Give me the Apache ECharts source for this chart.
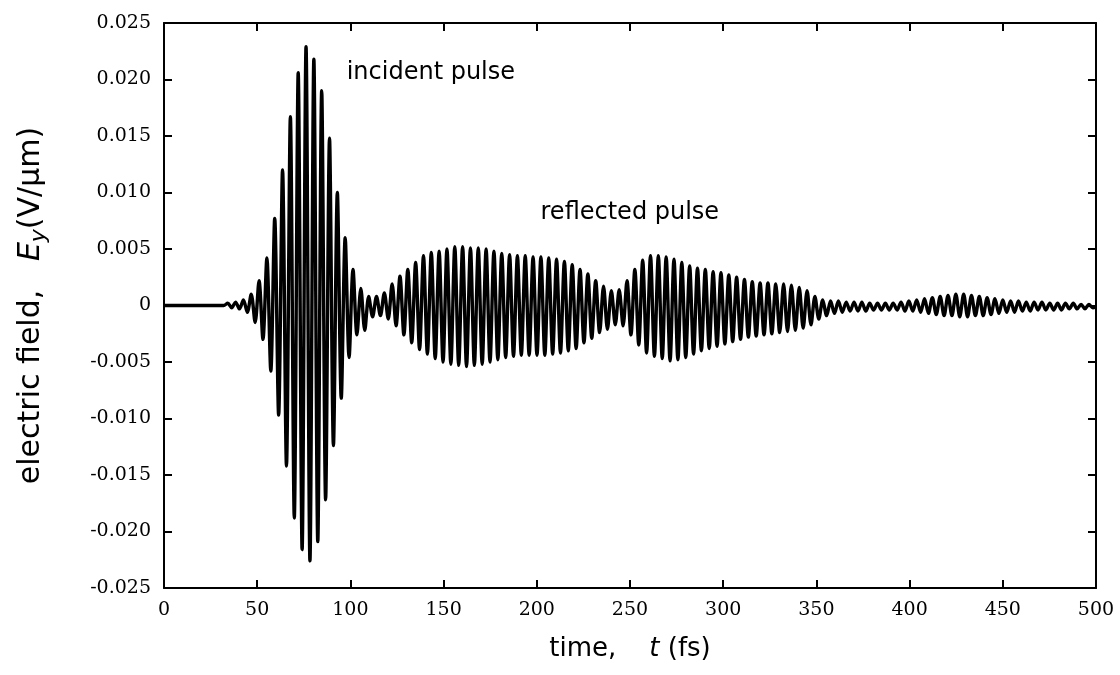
<!DOCTYPE html>
<html>
<head>
<meta charset="utf-8">
<script src="https://cdn.jsdelivr.net/npm/echarts@6/dist/echarts.min.js"></script>
<style>
html,body{margin:0;padding:0;background:#fff;}
#chart{width:1120px;height:675px;}
</style>
</head>
<body>
<div id="chart"></div>
<script>
// ---- data ----
// x-axis tick labels (fs) and y-axis range (V/um)
const xTicks = [0, 50, 100, 150, 200, 250, 300, 350, 400, 450, 500];
const yTicks = [-0.025, -0.020, -0.015, -0.010, -0.005, 0, 0.005, 0.010, 0.015, 0.020, 0.025];

// extrema of the field trace: one positive crest and one negative trough per optical cycle
// crest k occurs at firstCrest + k*cycle fs, its trough half a cycle later
const firstCrest = 34.2;   // fs
const cycle = 4.2;         // fs, carrier period
const crests = [
  0.0002, 0.0003, 0.0005, 0.0010, 0.0022, 0.0042, 0.0077, 0.0120, 0.0167, 0.0206,
  0.0229, 0.0218, 0.0190, 0.0148, 0.0100, 0.0060, 0.0032, 0.0015, 0.0008, 0.0008,
  0.0011, 0.0019, 0.0026, 0.0032, 0.0038, 0.0044, 0.0047, 0.0048, 0.0050, 0.0052,
  0.0052, 0.0051, 0.0051, 0.0050, 0.0048, 0.0046, 0.0045, 0.0044, 0.0044, 0.0043,
  0.0043, 0.0042, 0.0041, 0.0039, 0.0036, 0.0032, 0.0028, 0.0022, 0.0017, 0.0013,
  0.0014, 0.0022, 0.0032, 0.0040, 0.0044, 0.0044, 0.0043, 0.0041, 0.0038, 0.0035,
  0.0033, 0.0032, 0.0030, 0.0029, 0.0027, 0.0025, 0.0023, 0.0021, 0.0020, 0.0020,
  0.0019, 0.0019, 0.0018, 0.0016, 0.0013, 0.0008, 0.0005, 0.0004, 0.0004, 0.0003,
  0.0003, 0.0003, 0.0002, 0.0002, 0.0002, 0.0002, 0.0003, 0.0004, 0.0005, 0.0006,
  0.0007, 0.0008, 0.0009, 0.0010, 0.0010, 0.0009, 0.0008, 0.0007, 0.0006, 0.0005,
  0.0004, 0.0004, 0.0003, 0.0003, 0.0003, 0.0002, 0.0002, 0.0002, 0.0002, 0.0001,
  0.0001
];
const troughs = [
  -0.0002, -0.0003, -0.0006, -0.0015, -0.0030, -0.0058, -0.0097, -0.0142, -0.0188, -0.0216,
  -0.0226, -0.0209, -0.0172, -0.0124, -0.0082, -0.0046, -0.0026, -0.0022, -0.0010, -0.0009,
  -0.0012, -0.0018, -0.0026, -0.0033, -0.0039, -0.0043, -0.0047, -0.0050, -0.0052, -0.0053,
  -0.0054, -0.0053, -0.0052, -0.0050, -0.0048, -0.0046, -0.0045, -0.0044, -0.0044, -0.0044,
  -0.0044, -0.0043, -0.0042, -0.0040, -0.0038, -0.0033, -0.0029, -0.0024, -0.0021, -0.0017,
  -0.0018, -0.0026, -0.0035, -0.0042, -0.0045, -0.0047, -0.0049, -0.0048, -0.0046, -0.0043,
  -0.0040, -0.0038, -0.0036, -0.0034, -0.0032, -0.0030, -0.0028, -0.0027, -0.0026, -0.0025,
  -0.0024, -0.0023, -0.0022, -0.0020, -0.0017, -0.0012, -0.0009, -0.0007, -0.0006, -0.0005,
  -0.0005, -0.0005, -0.0004, -0.0004, -0.0004, -0.0004, -0.0005, -0.0005, -0.0006, -0.0007,
  -0.0008, -0.0009, -0.0009, -0.0010, -0.0010, -0.0009, -0.0009, -0.0008, -0.0007, -0.0006,
  -0.0006, -0.0005, -0.0005, -0.0004, -0.0004, -0.0004, -0.0004, -0.0003, -0.0003, -0.0003,
  -0.0002
];
// quiet baseline before the pulse arrives and the value at the end of the window
const leadIn = [[0, 0], [32, 0]];
const tail = [[500, -0.0001]];

// annotations (data coordinates)
const notes = [
  { text: 'incident pulse', t: 98, e: 0.0206 },
  { text: 'reflected pulse', t: 202, e: 0.0082 }
];

// ---- build series ----
const trace = leadIn.slice();
for (let k = 0; k < crests.length; k++) {
  const tc = firstCrest + k * cycle;
  trace.push([tc, crests[k]]);
  trace.push([tc + cycle / 2, troughs[k]]);
}
tail.forEach(p => trace.push(p));

const serif = 'DejaVu Serif';
const sans = 'DejaVu Sans';
const yFmt = v => (Math.abs(v) < 1e-9 ? '0' : v.toFixed(3));

const frameLine = { show: true, onZero: false, lineStyle: { color: '#000', width: 2 } };
const frameTick = { show: true, inside: true, length: 8, lineStyle: { color: '#000', width: 2 } };

const chart = echarts.init(document.getElementById('chart'), null, { renderer: 'canvas' });
chart.setOption({
  animation: false,
  backgroundColor: '#fff',
  grid: { left: 164, right: 24, top: 23, bottom: 87, containLabel: false },
  xAxis: [{
    type: 'value', min: xTicks[0], max: xTicks[xTicks.length - 1], interval: 50,
    axisLine: frameLine, axisTick: frameTick,
    axisLabel: { color: '#000', fontFamily: serif, fontSize: 19, margin: 13 },
    splitLine: { show: false },
    name: '{a|time,    }{i|t}{a| (fs)}',
    nameLocation: 'middle', nameGap: 48,
    nameTextStyle: {
      rich: {
        a: { fontFamily: sans, fontSize: 26, color: '#000' },
        i: { fontFamily: sans, fontSize: 26, fontStyle: 'italic', color: '#000' }
      }
    }
  }, {
    type: 'value', position: 'top', min: xTicks[0], max: xTicks[xTicks.length - 1], interval: 50,
    axisLine: frameLine, axisTick: frameTick,
    axisLabel: { show: false }, splitLine: { show: false }
  }],
  yAxis: [{
    type: 'value', min: yTicks[0], max: yTicks[yTicks.length - 1], interval: 0.005,
    axisLine: frameLine, axisTick: frameTick,
    axisLabel: { color: '#000', fontFamily: serif, fontSize: 19, margin: 13, formatter: yFmt },
    splitLine: { show: false },
    name: '{a|electric field,   }{e|E}{s|y}{a|(V/µm)}',
    nameLocation: 'middle', nameGap: 114, nameRotate: 90,
    nameTextStyle: {
      rich: {
        a: { fontFamily: sans, fontSize: 30, color: '#000', lineHeight: 38, verticalAlign: 'middle' },
        e: { fontFamily: sans, fontSize: 30, fontStyle: 'italic', color: '#000', lineHeight: 38, verticalAlign: 'middle' },
        s: { fontFamily: sans, fontSize: 22, fontStyle: 'italic', color: '#000', lineHeight: 22, verticalAlign: 'bottom' }
      }
    }
  }, {
    type: 'value', position: 'right', min: yTicks[0], max: yTicks[yTicks.length - 1], interval: 0.005,
    axisLine: frameLine, axisTick: frameTick,
    axisLabel: { show: false }, splitLine: { show: false }
  }],
  series: [{
    type: 'line',
    data: trace,
    xAxisIndex: 0, yAxisIndex: 0,
    showSymbol: false, symbol: 'none',
    smooth: 0.3,
    sampling: null,
    lineStyle: { color: '#000', width: 3.4 },
    z: 2
  }, {
    type: 'scatter',
    data: notes.map(n => ({ value: [n.t, n.e], name: n.text })),
    symbolSize: 0,
    itemStyle: { opacity: 1 },
    label: {
      show: true, position: 'right', distance: 0,
      formatter: p => p.name,
      color: '#000', opacity: 1, fontFamily: sans, fontSize: 24
    },
    silent: true,
    z: 3
  }]
});
</script>
</body>
</html>
